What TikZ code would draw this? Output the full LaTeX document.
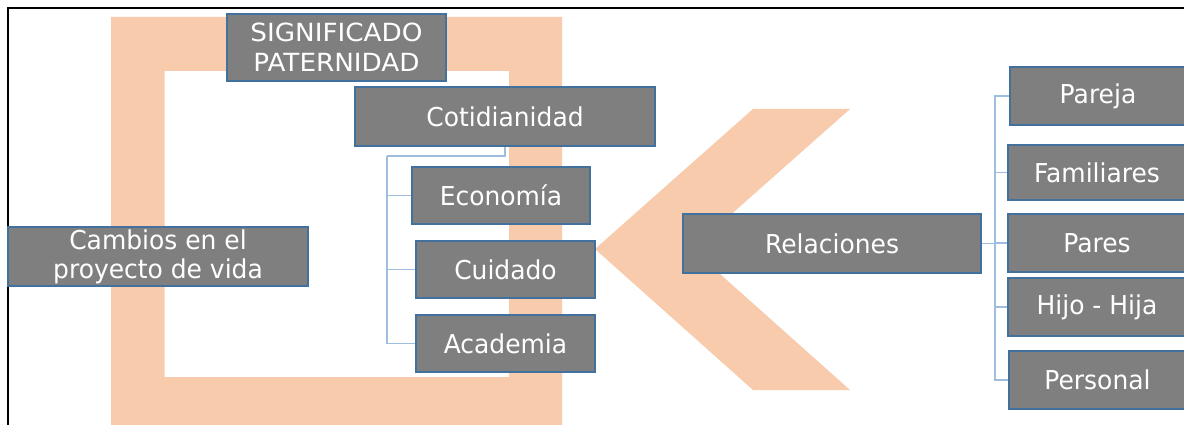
\documentclass[tikz,border=0pt]{standalone}
\usepackage{fontspec}
\setmainfont[FakeStretch=0.96]{DejaVu Sans}
\newfontfamily\widefont[FakeStretch=1.05]{DejaVu Sans}
\definecolor{peach}{RGB}{248,203,173}
\definecolor{boxgray}{RGB}{127,127,127}
\definecolor{boxedge}{RGB}{65,113,156}
\definecolor{connblue}{RGB}{157,190,224}
\tikzset{
  gbox/.style={draw=boxedge, line width=1.2pt, fill=boxgray, text=white, inner sep=0pt,
    align=center, font=\fontsize{26}{29}\selectfont},
  conn/.style={draw=connblue, line width=1.4pt},
}
\begin{document}
\begin{tikzpicture}[x=1pt,y=-1pt]
\useasboundingbox (0,0) rectangle (1184,425);
\clip (0,0) rectangle (1184,425);
\fill[white] (0,0) rectangle (1184,425);
% page frame lines
\draw[line width=2pt, black] (1190,8) -- (8,8) -- (8,430);
% peach frame
\fill[peach, even odd rule] (111,17) rectangle (562,430) (164.5,71) rectangle (509,377);
% chevron
\fill[peach] (753,109) -- (850,109) -- (692,249) -- (850,390) -- (753,390) -- (595,249) -- cycle;
% boxes
\node[gbox, minimum width=219pt, minimum height=67pt, font=\widefont\fontsize{25}{30}\selectfont] (sig) at (336.5,47.5) {SIGNIFICADO\\PATERNIDAD};
\node[gbox, minimum width=300pt, minimum height=59pt] (coti) at (505,116.5) {Cotidianidad};
\node[gbox, minimum width=178pt, minimum height=57pt] (eco) at (501,195.5) {Economía};
\node[gbox, minimum width=179pt, minimum height=57pt] (cui) at (505.5,269.5) {Cuidado};
\node[gbox, minimum width=179pt, minimum height=57pt] (aca) at (505.5,343.5) {Academia};
\node[gbox, minimum width=300pt, minimum height=59pt] (camb) at (158,256.5) {Cambios en el\\proyecto de vida};
\node[gbox, minimum width=298pt, minimum height=59pt] (rel) at (832,243.5) {Relaciones};
\node[gbox, minimum width=176pt, minimum height=58pt] (pareja) at (1098,96) {Pareja};
\node[gbox, minimum width=178pt, minimum height=55pt] (fam) at (1097,172.5) {Familiares};
\node[gbox, minimum width=178pt, minimum height=58pt] (pares) at (1097,243) {Pares};
\node[gbox, minimum width=178pt, minimum height=58pt] (hijo) at (1097,307) {Hijo - Hija};
\node[gbox, minimum width=177pt, minimum height=58pt] (pers) at (1097.5,380) {Personal};
% connectors
\coordinate (j1) at (387,156);
\draw[conn] (coti.south) |- (j1);
\draw[conn] (j1) |- (eco.west);
\draw[conn] (j1) |- (cui.west);
\draw[conn] (j1) |- (aca.west);
\coordinate (j2) at (995,243.5);
\draw[conn] (rel.east) -- (j2);
\draw[conn] (j2) |- (pareja.west);
\draw[conn] (j2) |- (fam.west);
\draw[conn] (j2) |- (pares.west);
\draw[conn] (j2) |- (hijo.west);
\draw[conn] (j2) |- (pers.west);
\end{tikzpicture}
\end{document}
